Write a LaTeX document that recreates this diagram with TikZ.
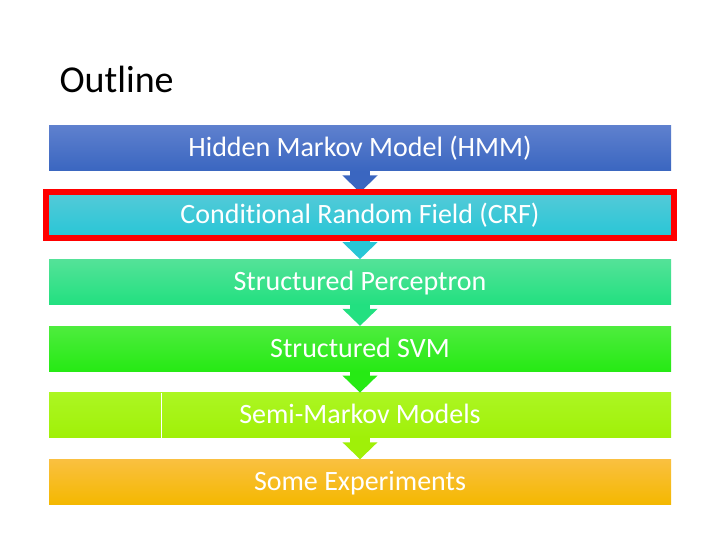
\documentclass[tikz,border=0pt]{standalone}
\usepackage{fontspec}
\setmainfont{Carlito}[Ligatures={NoCommon,NoContextual}]
\usetikzlibrary{arrows.meta}
\definecolor{hmmtop}{RGB}{94,128,206}
\definecolor{hmmbot}{RGB}{58,102,192}
\definecolor{crftop}{RGB}{84,202,216}
\definecolor{crfbot}{RGB}{40,198,214}
\definecolor{sptop}{RGB}{84,226,152}
\definecolor{spbot}{RGB}{34,224,128}
\definecolor{svmtop}{RGB}{78,236,62}
\definecolor{svmbot}{RGB}{38,234,20}
\definecolor{semitop}{RGB}{172,246,34}
\definecolor{semibot}{RGB}{160,240,8}
\definecolor{exptop}{RGB}{250,192,64}
\definecolor{expbot}{RGB}{244,184,0}

\begin{document}
\begin{tikzpicture}[x=1pt, y=-1pt,
  bar/.style={minimum width=622pt, minimum height=45pt, inner sep=0pt, text=white,
    text height=20pt, text depth=3pt, font=\fontsize{28}{34}\selectfont},
  down/.style={line width=20pt, -{Triangle[width=34pt,length=17pt]}}]
\useasboundingbox (0,0) rectangle (720,540);

\node[anchor=base west, font=\fontsize{38}{46}\selectfont] (title) at (56,93) {Outline};

\node[bar, top color=hmmtop, bottom color=hmmbot] (hmm) at (360,148.5) {Hidden Markov Model (HMM)};
\node[bar, top color=crftop, bottom color=crfbot] (crf) at (360,215.2) {Conditional Random Field (CRF)};
\node[bar, top color=sptop, bottom color=spbot] (sp) at (360,281.9) {Structured Perceptron};
\node[bar, top color=svmtop, bottom color=svmbot] (svm) at (360,348.6) {Structured SVM};
\node[bar, top color=semitop, bottom color=semibot] (semi) at (360,415.3) {Semi-Markov Models};
\node[bar, top color=exptop, bottom color=expbot] (exp) at (360,482) {Some Experiments};

\draw[white, line width=0.8pt] ([xshift=113pt]semi.north west) -- ([xshift=113pt]semi.south west);

\draw[down, hmmbot] (hmm.south) -- (crf.north);
\draw[down, crfbot] (crf.south) -- (sp.north);
\draw[down, spbot] (sp.south) -- (svm.north);
\draw[down, svmbot] (svm.south) -- (semi.north);
\draw[down, semibot] (semi.south) -- (exp.north);

% current topic
\draw[red, line width=6pt] ([xshift=-2.5pt]crf.north west) rectangle ([xshift=2.5pt]crf.south east);
\end{tikzpicture}
\end{document}
